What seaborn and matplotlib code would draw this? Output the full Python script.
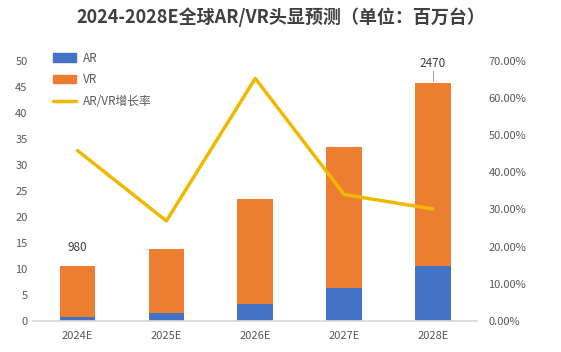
import numpy as np
import pandas as pd
import matplotlib
matplotlib.use('Agg')
import matplotlib.pyplot as plt
import matplotlib.patches as mpatches
import matplotlib.lines as mlines
from matplotlib.ticker import FuncFormatter
import seaborn as sns

# data (millions of units)
years = ['2024E', '2025E', '2026E', '2027E', '2028E']
ar = [0.8, 1.5, 3.3, 6.3, 10.6]
vr = [9.8, 12.3, 20.2, 27.2, 35.0]
growth = [45.8, 26.9, 65.2, 34.0, 30.1]  # %
bar_labels = {0: '980', 4: '2470'}

sns.set_theme(style='white')
plt.rcParams['font.family'] = ['Noto Sans CJK SC', 'DejaVu Sans']

blue = '#4472C4'
orange = '#ED7D31'
gold = '#F2B800'
grey = '#595959'

df = pd.DataFrame({'year': years, 'AR': ar, 'VR': vr})
df['total'] = df['AR'] + df['VR']

fig = plt.figure(figsize=(5.61, 3.52), dpi=100)
ax = fig.add_axes([0.059, 0.088, 0.792, 0.74])

sns.barplot(data=df, x='year', y='total', color=orange, width=0.4, saturation=1,
            linewidth=0, ax=ax)
sns.barplot(data=df, x='year', y='AR', color=blue, width=0.4, saturation=1,
            linewidth=0, ax=ax)

ax.set_ylim(0, 50)
ax.set_yticks(range(0, 51, 5))
ax.set_xlim(-0.5, 4.5)
ax.set_xlabel('')
ax.set_ylabel('')
for s in ['top', 'right', 'left']:
    ax.spines[s].set_visible(False)
ax.spines['bottom'].set_color('#D9D9D9')
ax.tick_params(axis='both', colors=grey, labelsize=8, length=0, pad=4)
ax.tick_params(axis='x', pad=7)

# value labels
for i, txt in bar_labels.items():
    tot = df['total'][i]
    if i == 4:
        ax.plot([i, i], [tot + 0.4, tot + 2.3], color='#A6A6A6', lw=0.8)
        ax.text(i, tot + 2.6, txt, ha='center', va='bottom', fontsize=8.5, color='#404040')
    else:
        ax.text(i, tot + 2.3, txt, ha='center', va='bottom', fontsize=8.5, color='#404040')

ax2 = ax.twinx()
sns.lineplot(x=np.arange(len(years)), y=growth, color=gold, lw=2.5, ax=ax2, sort=False)
ax2.set_ylim(0, 70)
ax2.set_yticks(range(0, 71, 10))
ax2.yaxis.set_major_formatter(FuncFormatter(lambda v, p: '%.2f%%' % v))
for s in ['top', 'right', 'left', 'bottom']:
    ax2.spines[s].set_visible(False)
ax2.tick_params(axis='y', colors=grey, labelsize=8, length=0, pad=8)

handles = [mpatches.Patch(color=blue, label='AR'),
           mpatches.Patch(color=orange, label='VR'),
           mlines.Line2D([], [], color=gold, lw=2.5, label='AR/VR增长率')]
ax2.legend(handles=handles, loc='upper left', bbox_to_anchor=(0.02, 1.075), frameon=False,
           fontsize=8.5, labelcolor=grey, labelspacing=0.75, handlelength=2.0, handleheight=0.7,
           handletextpad=0.6)

fig.suptitle('2024-2028E全球AR/VR头显预测（单位：百万台）', x=0.5, y=0.98,
             fontsize=13, fontweight='bold', color='#404040')

fig.savefig('out.png', dpi=100)
